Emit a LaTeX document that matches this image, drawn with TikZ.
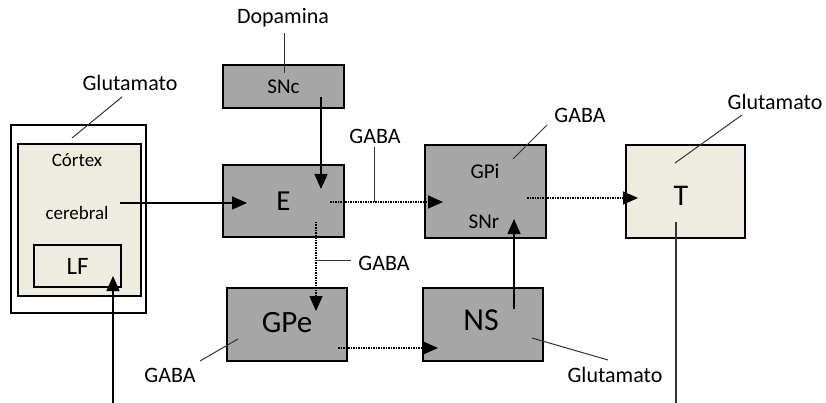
\documentclass[tikz,border=0pt]{standalone}
\usepackage{fontspec}
\setmainfont{Carlito}
\usetikzlibrary{arrows.meta,calc}
\definecolor{boxgray}{HTML}{A6A6A6}
\definecolor{beige}{HTML}{EEECE1}
\begin{document}
\begin{tikzpicture}[x=1pt,y=-1pt,
 box/.style={draw, line width=1.3pt, inner sep=0pt},
 graybox/.style={box, fill=boxgray},
 beigebox/.style={box, fill=beige},
 mid/.style={font=\fontsize{21}{24}\selectfont, inner sep=0pt},
 small/.style={font=\fontsize{19}{22}\selectfont, inner sep=0pt},
 lbl/.style={font=\fontsize{22}{26}\selectfont, inner sep=0pt},
 con/.style={line width=1.5pt, -{Triangle[length=15pt,width=13pt]}},
 dcon/.style={con, densely dotted},
 lead/.style={line width=1pt, draw=black!80}
]
\useasboundingbox (0,0) rectangle (826,403);
% boxes
\node[box, minimum width=135pt, minimum height=188pt] (outer) at (78.5,219) {};
\node[beigebox, minimum width=123pt, minimum height=152pt] (cortex) at (79.5,220) {};
\node[beigebox, minimum width=87pt, minimum height=42pt, font=\fontsize{25}{28}\selectfont] (LF) at (77.5,266) {LF};
\node[small] (ctx1) at (77,160) {Córtex};
\node[small] (ctx2) at (77,213) {cerebral};
\node[graybox, minimum width=121pt, minimum height=43pt, font=\fontsize{21}{24}\selectfont] (SNc) at (283.5,86.5) {SNc};
\node[graybox, minimum width=121pt, minimum height=72pt, font=\fontsize{29}{32}\selectfont] (E) at (283.5,201) {E};
\node[graybox, minimum width=121pt, minimum height=93pt] (GPi) at (485.5,191.5) {};
\node[mid] (GPit) at (485,171) {GPi};
\node[mid] (SNrt) at (484,222) {SNr};
\node[beigebox, minimum width=119pt, minimum height=93pt] (T) at (685.5,191.5) {};
\node[font=\fontsize{30}{32}\selectfont, inner sep=0pt] (Tt) at (681,196) {T};
\node[graybox, minimum width=120pt, minimum height=73pt] (GPe) at (287,324.5) {};
\node[font=\fontsize{31}{34}\selectfont, inner sep=0pt] (GPet) at (287,323) {GPe};
\node[graybox, minimum width=120pt, minimum height=73pt] (NS) at (483,324.5) {};
\node[font=\fontsize{32}{34}\selectfont, inner sep=0pt] (NSt) at (481,320) {NS};
% labels
\node[lbl] (glu1) at (130,83) {Glutamato};
\node[lbl] (dopa) at (283,18) {Dopamina};
\node[lbl] (gaba1) at (375,136) {GABA};
\node[lbl] (gaba2) at (580,115) {GABA};
\node[lbl] (glu2) at (775,102) {Glutamato};
\node[lbl] (gaba3) at (384,263) {GABA};
\node[lbl] (gaba4) at (170,375) {GABA};
\node[lbl] (glu3) at (615,375) {Glutamato};
% connector points
\coordinate (ctxout) at (120,203);
\coordinate (Ein) at (247,203);
\coordinate (SNcout) at (321,97);
\coordinate (Etop) at (321,189);
\coordinate (Eright) at (330,202);
\coordinate (GPiin) at (443,202);
\coordinate (GPiout) at (527,198);
\coordinate (Tin) at (638,198);
\coordinate (Edown) at (316,222);
\coordinate (GPein) at (316,311);
\coordinate (GPeout) at (338,348);
\coordinate (NSin) at (438,348);
\coordinate (NSup) at (514,309);
\coordinate (GPibot) at (514,219);
\coordinate (Tdown) at (676,222);
\coordinate (Tend) at (676,403);
\coordinate (LFstart) at (113,403);
\coordinate (LFin) at (113,276);
% connectors
\draw[con] (ctxout) -- (Ein);
\draw[con] (SNcout) -- (Etop);
\draw[dcon] (Eright) -- (GPiin);
\draw[dcon] (GPiout) -- (Tin);
\draw[dcon] (Edown) -- (GPein);
\draw[dcon] (GPeout) -- (NSin);
\draw[con] (NSup) -- (GPibot);
\draw[line width=1.5pt, draw=black!80] (Tdown) -- (Tend);
\draw[con] (LFstart) -- (LFin);
% leaders
\coordinate (l1a) at (122,97); \coordinate (l1b) at (72,138);
\draw[lead] (l1a) -- (l1b);
\coordinate (l2a) at (284,33); \coordinate (l2b) at (284,73);
\draw[lead] (l2a) -- (l2b);
\coordinate (l3a) at (374,147); \coordinate (l3b) at (374,202);
\draw[lead] (l3a) -- (l3b);
\coordinate (l4a) at (547,125); \coordinate (l4b) at (513,159);
\draw[lead] (l4a) -- (l4b);
\coordinate (l5a) at (742,115); \coordinate (l5b) at (675,163);
\draw[lead] (l5a) -- (l5b);
\coordinate (l6a) at (316,260); \coordinate (l6b) at (351,260);
\draw[lead] (l6a) -- (l6b);
\coordinate (l7a) at (200,361); \coordinate (l7b) at (238,339);
\draw[lead] (l7a) -- (l7b);
\coordinate (l8a) at (532,338); \coordinate (l8b) at (608,360);
\draw[lead] (l8a) -- (l8b);
\end{tikzpicture}
\end{document}
